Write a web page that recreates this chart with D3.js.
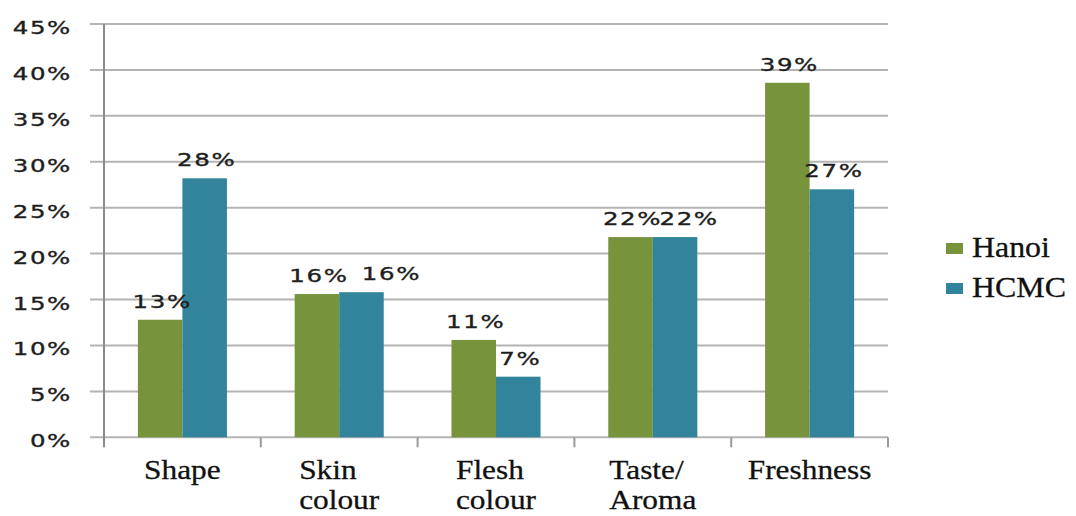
<!DOCTYPE html>
<html>
<head>
<meta charset="utf-8">
<script src="https://cdn.jsdelivr.net/npm/d3@7"></script>
<style>
  html, body { margin: 0; padding: 0; background: #ffffff; }
  svg { display: block; }
</style>
</head>
<body>
<svg id="chart" width="1076" height="516"></svg>
<script>
// Share of respondents citing each attribute, by city
const categories = ["Shape", "Skin colour", "Flesh colour", "Taste/Aroma", "Freshness"];
const categoryLines = [["Shape"], ["Skin", "colour"], ["Flesh", "colour"], ["Taste/", "Aroma"], ["Freshness"]];
const seriesNames = ["Hanoi", "HCMC"];
const hanoi = [0.128, 0.156, 0.106, 0.218, 0.386];
const hcmc  = [0.282, 0.158, 0.066, 0.218, 0.270];
const yTicks = [0, 0.05, 0.10, 0.15, 0.20, 0.25, 0.30, 0.35, 0.40, 0.45];

const colors = { Hanoi: "#77933c", HCMC: "#31849b" };

const svg = d3.select("#chart");
const plotLeft = 104, plotRight = 888, plotTop = 24, plotBottom = 437.3;

const x0 = d3.scaleBand().domain(categories).range([plotLeft, plotRight])
  .paddingInner(0.432).paddingOuter(0.216);
const x1 = d3.scaleBand().domain(seriesNames).range([0, x0.bandwidth()]);
const y = d3.scaleLinear().domain([0, 0.45]).range([plotBottom, plotTop]);
const pct = d3.format(".0%");

const numFont = "'DejaVu Sans', Verdana, sans-serif";
const serif = "'Liberation Serif', 'Times New Roman', serif";

// horizontal gridlines
svg.append("g").selectAll("line").data(yTicks).join("line")
  .attr("x1", 90).attr("x2", plotRight)
  .attr("y1", d => y(d)).attr("y2", d => y(d))
  .attr("stroke", "#b4b4b4").attr("stroke-width", 2);

// y-axis value labels
svg.append("g").selectAll("text").data(yTicks).join("text")
  .attr("transform", d => `translate(72,${y(d) + 10}) scale(1.36,1)`)
  .attr("text-anchor", "end")
  .attr("font-family", numFont).attr("font-size", 18)
  .attr("letter-spacing", 1.2)
  .attr("fill", "#1e1e1e")
  .attr("stroke", "#1e1e1e").attr("stroke-width", 0.35)
  .text(d => pct(d));

// category boundary ticks
const bounds = categories.map(c => x0(c) - x0.step() * x0.paddingOuter());
bounds.push(plotRight);
svg.append("g").selectAll("line").data(bounds.slice(1)).join("line")
  .attr("x1", d => d).attr("x2", d => d)
  .attr("y1", plotBottom).attr("y2", plotBottom + 10)
  .attr("stroke", "#9a9a9a").attr("stroke-width", 2);

// vertical axis
svg.append("line")
  .attr("x1", plotLeft).attr("x2", plotLeft).attr("y1", plotTop).attr("y2", plotBottom + 10)
  .attr("stroke", "#8a8a8a").attr("stroke-width", 2);

// bars
const rows = [];
categories.forEach((c, i) => {
  rows.push({ cat: c, series: "Hanoi", value: hanoi[i] });
  rows.push({ cat: c, series: "HCMC", value: hcmc[i] });
});

svg.append("g").selectAll("rect").data(rows).join("rect")
  .attr("x", d => x0(d.cat) + x1(d.series))
  .attr("y", d => y(d.value))
  .attr("width", x1.bandwidth())
  .attr("height", d => y(0) - y(d.value))
  .attr("fill", d => colors[d.series]);

// value labels, nudged sideways where neighbours would collide
const nudge = { "Skin colour|HCMC": 28, "Taste/Aroma|HCMC": 12 };
svg.append("g").selectAll("text").data(rows).join("text")
  .attr("transform", d => {
    const cx = x0(d.cat) + x1(d.series) + x1.bandwidth() / 2 + 2 + (nudge[d.cat + "|" + d.series] || 0);
    return `translate(${cx},${y(d.value) - 12}) scale(1.36,1)`;
  })
  .attr("text-anchor", "middle")
  .attr("font-family", numFont).attr("font-size", 18)
  .attr("letter-spacing", 1.2)
  .attr("fill", "#1e1e1e")
  .attr("stroke", "#1e1e1e").attr("stroke-width", 0.35)
  .text(d => pct(d.value));

// category labels (block centred under the group, lines left-aligned)
const catG = svg.append("g");
categories.forEach((c, i) => {
  const g = catG.append("g");
  const lines = categoryLines[i];
  const texts = lines.map((ln, j) => g.append("text")
    .attr("font-family", serif).attr("font-size", 28)
    .attr("fill", "#111")
    .attr("stroke", "#111").attr("stroke-width", 0.3)
    .attr("y", 479 + j * 30)
    .text(ln));
  const sx = 1.12;
  const maxW = d3.max(texts, t => t.node().getComputedTextLength()) * sx;
  const cx = x0(c) + x0.bandwidth() / 2;
  g.attr("transform", `translate(${cx - maxW / 2},0) scale(${sx},1)`);
});

// legend
const legend = svg.append("g");
seriesNames.forEach((s, i) => {
  const ly = 243 + i * 40;
  legend.append("rect")
    .attr("x", 946).attr("y", ly).attr("width", 17).attr("height", 11)
    .attr("fill", colors[s]);
  legend.append("text")
    .attr("transform", `translate(972,${ly + 14}) scale(1.1,1)`)
    .attr("font-family", serif).attr("font-size", 29)
    .attr("fill", "#111")
    .attr("stroke", "#111").attr("stroke-width", 0.3)
    .text(s);
});
</script>
</body>
</html>
